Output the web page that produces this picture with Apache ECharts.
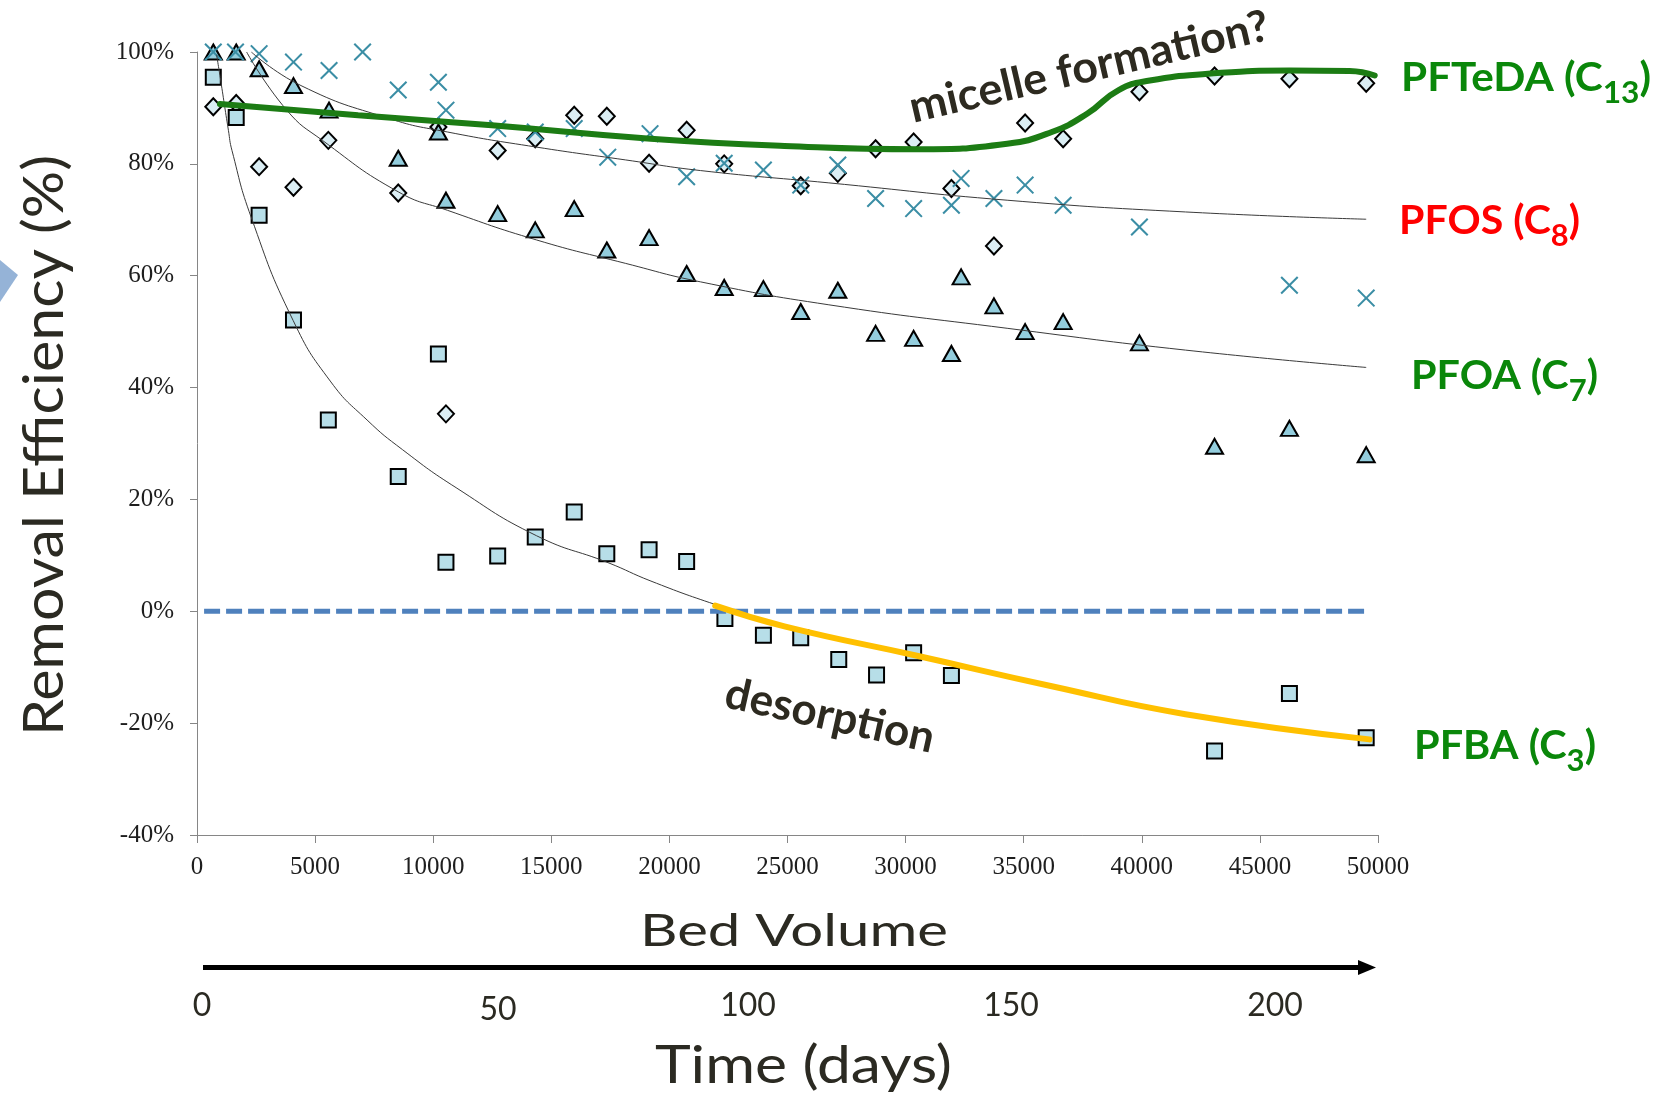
<!DOCTYPE html>
<html><head><meta charset="utf-8">
<script src="https://cdn.jsdelivr.net/npm/echarts@6/dist/echarts.min.js"></script>
<style>html,body{margin:0;padding:0;background:#fff}#c{width:1678px;height:1096px}</style>
</head><body><div id="c"></div>
<script>
// ---------------- DATA ----------------
const yTickMin = -40, yTickMax = 100, yTickStep = 20;
const xTickMin = 0, xTickMax = 50000, xTickStep = 5000;

// PFBA (C3) – squares
const pfbaBV  = [690, 1660, 2630, 4085, 5560, 8520, 10220, 10540, 12730, 14320, 15970, 17350, 19140, 20730, 22350, 23980, 25560, 27170, 28770, 30340, 31940, 43080, 46250, 49500];
const pfbaVal = [95.5, 88.3, 70.8, 52.1, 34.2, 24.1, 46.0, 8.75, 9.9, 13.3, 17.75, 10.3, 11.0, 8.9, -1.3, -4.3, -4.75, -8.6, -11.4, -7.4, -11.5, -25.0, -14.7, -22.6];

// PFOA (C7) – triangles
const pfoaBV  = [690, 1660, 2630, 4085, 5590, 8520, 10220, 10540, 12730, 14320, 15970, 17350, 19140, 20730, 22320, 23980, 25560, 27130, 28730, 30340, 31940, 32350, 33740, 35060, 36670, 39900, 43080, 46250, 49500];
const pfoaVal = [100, 100, 97.0, 94.0, 89.6, 81.0, 85.7, 73.5, 71.1, 68.2, 72.0, 64.6, 66.8, 60.4, 57.9, 57.7, 53.6, 57.4, 49.7, 48.8, 46.1, 59.8, 54.6, 50.0, 51.8, 48.0, 29.5, 32.7, 28.0];

// PFTeDA (C13) – diamonds
const pftedaBV  = [690, 1660, 2630, 4085, 5560, 8520, 10220, 10540, 12730, 14320, 15970, 17350, 19140, 20730, 22320, 25560, 27130, 28730, 30340, 31940, 33740, 35060, 36670, 39900, 43080, 46250, 49500];
const pftedaVal = [90.2, 90.8, 79.5, 75.8, 84.2, 74.8, 86.6, 35.3, 82.4, 84.5, 88.7, 88.5, 80.1, 86.0, 80.0, 76.1, 78.3, 82.7, 83.9, 75.6, 65.3, 87.3, 84.5, 92.9, 95.7, 95.2, 94.4];

// PFOS (C8) – crosses
const pfosBV  = [690, 1630, 2630, 4085, 5590, 7010, 8520, 10220, 10540, 12730, 14320, 15970, 17390, 19180, 20730, 22320, 23980, 25560, 27130, 28730, 30340, 31940, 32350, 33740, 35060, 36670, 39900, 46250, 49500];
const pfosVal = [100, 100, 99.7, 98.2, 96.7, 100, 93.2, 94.6, 89.6, 86.3, 85.7, 86.3, 81.2, 85.4, 77.7, 80.1, 78.9, 76.2, 79.8, 73.8, 72.0, 72.6, 77.4, 73.8, 76.2, 72.6, 68.7, 58.3, 56.0];

// thin fitted trend curves
const fitPfosBV  = [2300, 4400, 8140, 10600, 14370, 18150, 21320, 26750, 34300, 41850, 49500];
const fitPfosVal = [100, 94.0, 88.1, 85.7, 83.0, 80.7, 78.8, 76.6, 73.5, 71.4, 70.1];
const fitPfoaBV  = [2100, 3800, 5310, 8520, 10600, 14370, 18150, 21320, 26750, 34300, 41850, 49500];
const fitPfoaVal = [100, 89.6, 84.2, 75.0, 71.7, 66.4, 62.2, 58.9, 54.8, 50.6, 46.7, 43.6];
const fitPfbaBV  = [830, 1000, 1330, 1480, 2290, 4070, 5670, 7200, 8700, 10970, 14380, 17400, 19220, 21950, 24870, 30530, 36190, 41850, 49500];
const fitPfbaVal = [99.5, 95.0, 86.0, 82.4, 70.5, 52.0, 41.0, 34.2, 28.9, 22.1, 13.5, 8.7, 5.4, 1.2, -2.7, -8.0, -13.4, -18.4, -22.9];

// hand-drawn highlight curves
const micelleBV  = [970, 6820, 12480, 19200, 24870, 30530, 34300, 36190, 37700, 39020, 40340, 42800, 46260, 48800, 49860];
const micelleVal = [90.7, 88.7, 86.9, 84.5, 83.2, 82.6, 83.6, 85.7, 89.0, 93.2, 94.9, 96.1, 96.7, 96.6, 95.8];
const desorbBV  = [21940, 24870, 30530, 36190, 41850, 49640];
const desorbVal = [1.0, -2.7, -8.0, -13.4, -18.4, -22.9];

// zero reference line
const zeroBV  = [300, 49500];
const zeroVal = [0, 0];

// texts
const xTitle = 'Bed Volume';
const yTitle = 'Removal Efficiency (%)';
const timeTitle = 'Time (days)';
const dayLabels = ['0', '50', '100', '150', '200'];
const compounds = [
  {main: 'PFTeDA (C', sub: '13', tail: ')', color: '#0a870a'},
  {main: 'PFOS (C',   sub: '8',  tail: ')', color: '#ff0000'},
  {main: 'PFOA (C',   sub: '7',  tail: ')', color: '#0a870a'},
  {main: 'PFBA (C',   sub: '3',  tail: ')', color: '#0a870a'}
];
const noteMicelle = 'micelle formation?';
const noteDesorb = 'desorption';

// ---------------- HELPERS ----------------
const pairs = (xs, ys) => xs.map((x, i) => [x, ys[i]]);
const mctx = document.createElement('canvas').getContext('2d');
function measure(t, font) { mctx.font = font; return mctx.measureText(t).width; }
const MID = 0.305; // canvas 'middle' offset above alphabetic baseline (Lato)

function fitText(o) {
  const font = `${o.weight || 'normal'} ${o.size}px ${o.family || 'Lato'}`;
  const w = measure(o.text, font);
  const s = o.width ? o.width / w : 1;
  return {
    type: 'group', x: o.x, y: o.y, rotation: o.rotation || 0, silent: true, z: 100,
    children: [{
      type: 'text', x: 0, y: -MID * o.size, scaleX: s,
      style: {text: o.text, font: font, fill: o.color,
              textAlign: o.align || 'left', align: o.align || 'left',
              textVerticalAlign: 'middle', verticalAlign: 'middle'}
    }]
  };
}
function subLabel(o) {
  const f1 = `bold ${o.size}px Lato`, f2 = `bold ${o.subSize}px Lato`;
  const w1 = measure(o.main, f1), w2 = measure(o.sub, f2), w3 = measure(o.tail, f1);
  const s = o.width / (w1 + w2 + w3);
  const mk = (t, f, x, y) => ({type: 'text', x: x, y: y,
    style: {text: t, font: f, fill: o.color, textAlign: 'left', align: 'left',
            textVerticalAlign: 'middle', verticalAlign: 'middle'}});
  return {
    type: 'group', x: o.x, y: o.y, scaleX: s, silent: true, z: 100,
    children: [
      mk(o.main, f1, 0, -MID * o.size),
      mk(o.sub, f2, w1, o.drop - MID * o.subSize),
      mk(o.tail, f1, w1 + w2, -MID * o.size)
    ]
  };
}

// ---------------- GRAPHICS ----------------
const labelPos = [
  {x: 1401, y: 90,  width: 250},
  {x: 1399, y: 233, width: 181},
  {x: 1411, y: 388, width: 187},
  {x: 1414, y: 758, width: 182}
];
const dayPos = [[202, 1015], [498, 1019], [748, 1015], [1011, 1015], [1275, 1015]];

const graphics = [];
graphics.push({type: 'polygon', silent: true, shape: {points: [[0, 260], [18, 275], [0, 302]]}, style: {fill: '#95b3d7'}});
graphics.push(fitText({text: yTitle, x: 62, y: 736, rotation: Math.PI / 2, size: 56, color: '#2b2a22', width: 581}));
graphics.push(fitText({text: xTitle, x: 640, y: 945, size: 44, color: '#2b2a22', width: 308}));
graphics.push(fitText({text: timeTitle, x: 655, y: 1082, size: 53, color: '#2b2a22', width: 297}));
dayLabels.forEach((t, i) => graphics.push(fitText({text: t, x: dayPos[i][0], y: dayPos[i][1], size: 32, color: '#2b2a22', align: 'center'})));
// arrow
graphics.push({type: 'line', silent: true, shape: {x1: 203, y1: 967.5, x2: 1362, y2: 967.5}, style: {stroke: '#000', lineWidth: 5}});
graphics.push({type: 'polygon', silent: true, shape: {points: [[1358, 960], [1376, 967.5], [1358, 975]]}, style: {fill: '#000'}});
compounds.forEach((c, i) => graphics.push(subLabel(Object.assign({size: 40, subSize: 30, drop: 12}, c, labelPos[i]))));
graphics.push(fitText({text: noteMicelle, x: 913, y: 122, rotation: 0.2286, size: 44, weight: 'bold', color: '#2d2a20', width: 368}));
graphics.push(fitText({text: noteDesorb, x: 723, y: 706, rotation: -0.218, size: 44, weight: 'bold', color: '#2d2a20', width: 213}));

// ---------------- CHART ----------------
const chart = echarts.init(document.getElementById('c'), null, {renderer: 'canvas'});
const xPath = 'path://M0,0.8L0.8,0L5,4.2L9.2,0L10,0.8L5.8,5L10,9.2L9.2,10L5,5.8L0.8,10L0,9.2L4.2,5Z';
const axisColor = '#868686';
const lbl = {fontFamily: '"Liberation Serif"', fontSize: 25, color: '#1e1e1e'};
const thin = {color: '#3a3a3a', width: 1};

chart.setOption({
  animation: false,
  backgroundColor: '#fff',
  grid: {left: 197, right: 300, top: 52, bottom: 261, containLabel: false},
  xAxis: {
    type: 'value', min: xTickMin, max: xTickMax, interval: xTickStep,
    axisLine: {show: true, onZero: false, lineStyle: {color: axisColor, width: 1}},
    axisTick: {show: true, length: 8, lineStyle: {color: axisColor}},
    axisLabel: Object.assign({margin: 20, formatter: v => String(v)}, lbl),
    splitLine: {show: false}
  },
  yAxis: {
    type: 'value', min: yTickMin, max: yTickMax, interval: yTickStep,
    axisLine: {show: true, lineStyle: {color: axisColor, width: 1}},
    axisTick: {show: true, length: 7, lineStyle: {color: axisColor}},
    axisLabel: Object.assign({margin: 23, formatter: v => v + '%'}, lbl),
    splitLine: {show: false}
  },
  series: [
    {name: 'PFTeDA', type: 'scatter', z: 2, data: pairs(pftedaBV, pftedaVal), symbol: 'diamond', symbolSize: [16, 17],
     itemStyle: {color: '#dbeef4', borderColor: '#000', borderWidth: 2, opacity: 1}},
    {name: 'PFOA', type: 'scatter', z: 2, data: pairs(pfoaBV, pfoaVal), symbol: 'triangle', symbolSize: [17, 15],
     itemStyle: {color: '#93cddd', borderColor: '#000', borderWidth: 2, opacity: 1}},
    {name: 'PFBA', type: 'scatter', z: 2, data: pairs(pfbaBV, pfbaVal), symbol: 'rect', symbolSize: [15, 15],
     itemStyle: {color: '#b7dee8', borderColor: '#000', borderWidth: 2, opacity: 1}},
    {name: 'PFOS', type: 'scatter', z: 2, data: pairs(pfosBV, pfosVal), symbol: xPath, symbolSize: 18,
     itemStyle: {color: '#3b8ea5', borderWidth: 0, opacity: 1}},
    {name: 'fitPFOS', type: 'line', z: 3, data: pairs(fitPfosBV, fitPfosVal), smooth: true, showSymbol: false, symbol: 'none', lineStyle: thin},
    {name: 'fitPFOA', type: 'line', z: 3, data: pairs(fitPfoaBV, fitPfoaVal), smooth: true, showSymbol: false, symbol: 'none', lineStyle: thin},
    {name: 'fitPFBA', type: 'line', z: 3, data: pairs(fitPfbaBV, fitPfbaVal), smooth: true, showSymbol: false, symbol: 'none', lineStyle: thin},
    {name: 'zero', type: 'line', z: 4, data: pairs(zeroBV, zeroVal), showSymbol: false, symbol: 'none',
     lineStyle: {color: '#4f81bd', width: 5, type: [16, 6]}},
    {name: 'micelle', type: 'line', z: 5, data: pairs(micelleBV, micelleVal), smooth: true, showSymbol: false, symbol: 'none',
     lineStyle: {color: '#1c7c14', width: 6, cap: 'round'}},
    {name: 'desorption', type: 'line', z: 5, data: pairs(desorbBV, desorbVal), smooth: true, showSymbol: false, symbol: 'none',
     lineStyle: {color: '#ffc000', width: 6, cap: 'round'}}
  ],
  graphic: {elements: graphics}
});
</script>
</body></html>
